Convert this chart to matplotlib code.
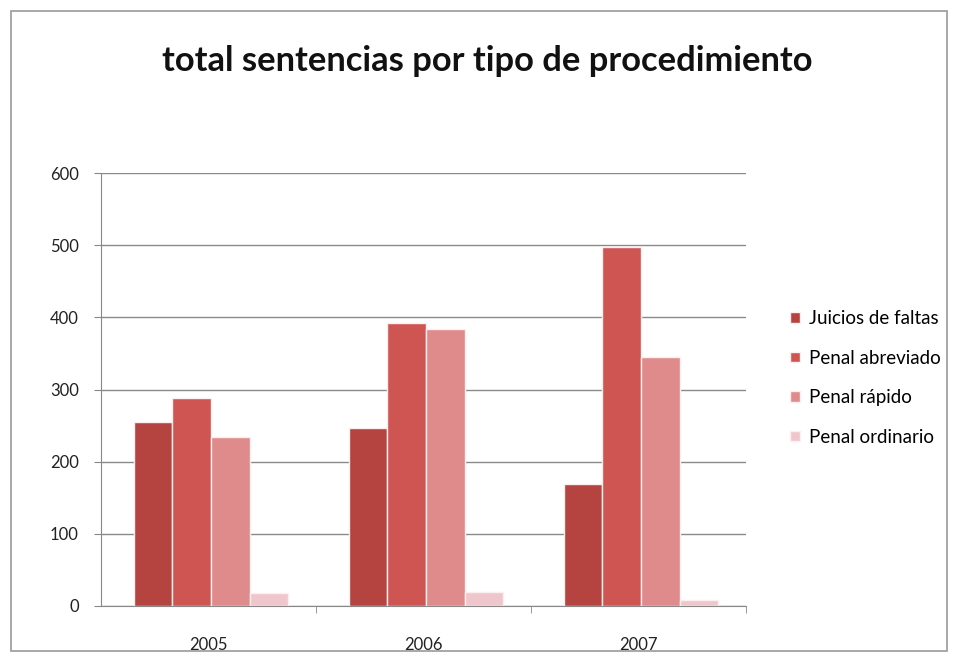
import matplotlib
matplotlib.use("Agg")
import matplotlib.pyplot as plt
import numpy as np
from matplotlib.patches import Rectangle

years = ["2005", "2006", "2007"]
series_names = ["Juicios de faltas", "Penal abreviado", "Penal rápido", "Penal ordinario"]
juicios_faltas = [255, 247, 169]
penal_abreviado = [288, 392, 497]
penal_rapido = [234, 384, 345]
penal_ordinario = [18, 20, 8]
yticks = [0, 100, 200, 300, 400, 500, 600]

series = [juicios_faltas, penal_abreviado, penal_rapido, penal_ordinario]
colors = ["#B5433F", "#CF5552", "#DF8B8C", "#EEC6CB"]

plt.rcParams['font.family'] = ['Lato', 'DejaVu Sans']

fig = plt.figure(figsize=(9.57, 6.62), dpi=100)
ax = fig.add_axes([0.1055, 0.0846, 0.674, 0.654])

x = np.arange(len(years))
w = 0.18
for i, (vals, c, name) in enumerate(zip(series, colors, series_names)):
    ax.bar(x + (i - 1.5) * w + 0.012, vals, width=w, color=c, edgecolor="#FBEFEF",
           linewidth=1.0, label=name, zorder=3)

ax.set_xlim(-0.5, 2.5)
ax.set_ylim(0, 600)
ax.set_yticks(yticks)
ax.set_yticklabels([str(v) for v in yticks], fontsize=12, color="#222222")
ax.set_xticks(x)
ax.set_xticklabels(years, fontsize=12, color="#222222")
ax.set_xticks([0.5, 1.5, 2.5], minor=True)
ax.tick_params(axis='x', which='major', length=0, pad=22)
ax.tick_params(axis='x', which='minor', length=5, color="#888888")
ax.tick_params(axis='y', length=5, color="#888888", pad=11)
ax.yaxis.grid(True, color="#8a8a8a", linewidth=1.0, zorder=0)
ax.set_axisbelow(True)
for s in ["top", "right"]:
    ax.spines[s].set_visible(False)
ax.spines["left"].set_color("#888888")
ax.spines["bottom"].set_color("#888888")

fig.text(0.509, 0.908, "total sentencias por tipo de procedimiento", ha="center", va="center",
         fontsize=24.8, fontweight="bold", color="#111111")

leg = fig.legend(loc="center left", bbox_to_anchor=(0.826, 0.429), frameon=False,
                 fontsize=13.5, handlelength=0.5, handleheight=0.5, handletextpad=0.5,
                 labelspacing=1.2, borderpad=0, borderaxespad=0)

fig.patches.append(Rectangle((0.011, 0.017), 0.979, 0.967, transform=fig.transFigure,
                             fill=False, edgecolor="#9a9a9a", linewidth=1.2))

fig.savefig("out.png", dpi=100)
